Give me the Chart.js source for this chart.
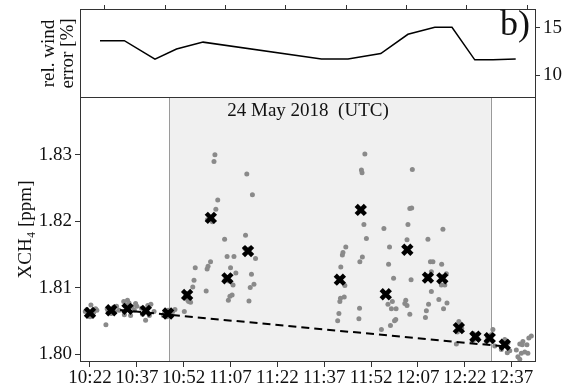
<!DOCTYPE html>
<html><head><meta charset="utf-8">
<script src="https://cdn.jsdelivr.net/npm/chart.js@4.4.0/dist/chart.umd.min.js"></script>
<style>
html,body{margin:0;padding:0;background:#fff;}
#wrap{position:relative;width:568px;height:391px;overflow:hidden;}
#cb{position:absolute;left:0;top:0;}
#ct{position:absolute;left:0;top:0;}
</style></head><body>
<div id="wrap"><canvas id="cb" width="568" height="391"></canvas><canvas id="ct" width="568" height="100"></canvas></div>
<script>
const FONT = "'Liberation Serif','Times New Roman','DejaVu Serif',serif";
const TXT = '#111';
const AX = '#333';

// x values are minutes after 10:22 UTC
const xTickMinutes = [0, 15, 30, 45, 60, 75, 90, 105, 120, 135];
const xTickLabels = ['10:22','10:37','10:52','11:07','11:22','11:37','11:52','12:07','12:22','12:37'];
const yTicks = [1.80, 1.81, 1.82, 1.83];
const windTicks = [10, 15];
const topTickMinutes = [4.5, 24.3, 43.5, 62.7, 82.2, 101.4, 120.6, 140.1];
const xRange = [-3.2, 142.8];
const yRange = [1.7988, 1.8387];
const windRange = [7.6, 17.0];

// relative wind error [%]
const windX = [3.2, 11.0, 20.8, 27.7, 36.2, 74.1, 82.6, 93.1, 101.8, 110.4, 115.9, 123.2, 129.0, 136.3];
const windY = [13.65, 13.65, 11.7, 12.77, 13.5, 11.73, 11.73, 12.3, 14.33, 15.07, 15.07, 11.63, 11.63, 11.73];

// individual XCH4 observations [ppm]
const obsX = [
  -1.0, 0.3, 1.2, -0.6, 0.8, 1.8, -1.5, 0.0, 2.2,
  5.1,
  5.5, 6.2, 7.5, 8.5, 9.3, 6.8, 8.0, 5.8,
  10.8, 11.5, 12.5, 13.5, 14.2, 11.0, 13.0, 15.0, 12.0, 14.6,
  16.5, 17.2, 18.5, 19.5, 20.5, 17.8, 19.0, 16.8,
  23.5, 24.2, 25.0, 25.8, 26.5, 27.2, 24.6, 23.9,
  30.2,
  31.9, 30.5, 31.3, 31.6, 30.8, 32.2,
  32.9, 33.3, 33.7, 37.2, 37.5, 37.8, 38.6, 40.0, 39.7, 40.9, 40.3, 37.6, 39.2,
  43.1, 43.2, 43.9, 44.3, 44.8, 45.0, 45.5, 45.8, 46.1, 46.7, 44.5,
  49.6, 49.8, 50.2, 50.9, 51.3, 51.7, 52.0, 52.5, 53.0, 51.0,
  79.3, 79.7, 80.0, 80.2, 80.3, 80.8, 81.0, 81.4, 81.6, 81.9,
  86.1, 86.3, 86.4, 86.9, 87.1, 87.2, 87.7, 88.0, 88.5,
  93.3, 94.1, 95.4, 95.6, 95.9, 96.2, 96.5, 96.8, 97.2, 97.5, 97.9, 98.0,
  101.1, 101.5, 101.5, 101.8, 102.4, 102.4, 102.8, 103.0, 103.2, 100.8,
  107.4, 107.7, 108.2, 108.4, 109.0, 109.3, 109.3, 109.8, 107.8,
  111.7, 112.5, 112.6, 113.0, 113.2, 113.6, 114.1, 114.3, 113.2,
  118.1, 118.8, 117.3, 117.6, 119.0, 118.6,
  122.6, 123.7, 122.4, 124.2, 123.2, 122.9,
  129.0, 128.5, 126.9, 129.6, 127.3, 128.1,
  132.8, 133.8, 131.7, 134.4, 133.6, 132.3,
  141.3, 140.5, 138.6, 137.6, 139.9, 138.4, 136.5, 139.2, 138.1, 140.2, 137.0, 137.6
];
const obsY = [
  1.8067, 1.8074, 1.8063, 1.8058, 1.8060, 1.8068, 1.8064, 1.8056, 1.8066,
  1.8044,
  1.8068, 1.8063, 1.8070, 1.8072, 1.8066, 1.8061, 1.8064, 1.8065,
  1.8079, 1.8074, 1.8077, 1.8071, 1.8066, 1.8059, 1.8058, 1.8072, 1.8081, 1.8076,
  1.8069, 1.8062, 1.8073, 1.8075, 1.8064, 1.8051, 1.8058, 1.8060,
  1.8058, 1.8064, 1.8066, 1.8061, 1.8064, 1.8067, 1.8056, 1.8062,
  1.8064,
  1.8083, 1.8086, 1.8081, 1.8079, 1.8091, 1.8078,
  1.8101, 1.8111, 1.8130, 1.8095, 1.8128, 1.8132, 1.8139, 1.8300, 1.8290, 1.8232, 1.8218, 1.8202, 1.8199,
  1.8173, 1.8111, 1.8147, 1.8081, 1.8087, 1.8130, 1.8089, 1.8104, 1.8147, 1.8122, 1.8110,
  1.8159, 1.8179, 1.8271, 1.8080, 1.8100, 1.8120, 1.8240, 1.8105, 1.8144, 1.8158,
  1.8050, 1.8061, 1.8079, 1.8084, 1.8131, 1.8149, 1.8153, 1.8086, 1.8103, 1.8161,
  1.8053, 1.8069, 1.8139, 1.8277, 1.8273, 1.8146, 1.8195, 1.8301, 1.8174,
  1.8037, 1.8189, 1.8075, 1.8135, 1.8161, 1.8043, 1.8068, 1.8079, 1.8114, 1.8050, 1.8052, 1.8068,
  1.8081, 1.8073, 1.8172, 1.8195, 1.8219, 1.8060, 1.8112, 1.8220, 1.8278, 1.8076,
  1.8055, 1.8065, 1.8173, 1.8075, 1.8139, 1.8124, 1.8094, 1.8139, 1.8118,
  1.8082, 1.8104, 1.8135, 1.8188, 1.8068, 1.8104, 1.8121, 1.8077, 1.8117,
  1.8049, 1.8045, 1.8015, 1.8033, 1.8039, 1.8042,
  1.8031, 1.8029, 1.8019, 1.8023, 1.8026, 1.8022,
  1.8037, 1.8029, 1.8019, 1.8012, 1.8025, 1.8021,
  1.8022, 1.8017, 1.8007, 1.8005, 1.8002, 1.8013,
  1.8027, 1.8024, 1.8019, 1.8015, 1.8014, 1.8014, 1.8006, 1.8003, 1.8001, 1.8001, 1.7996, 1.7992
];

// cluster means
const meanX = [0, 6.8, 12.0, 17.9, 25.0, 31.1, 38.7, 44.0, 50.6, 80.0, 86.7, 94.7, 101.6, 108.2, 112.8, 118.1, 123.4, 128.0, 132.8];
const meanY = [1.8062, 1.8066, 1.8068, 1.8065, 1.8061, 1.8089, 1.8205, 1.8114, 1.8155, 1.8112, 1.8217, 1.8090, 1.8157, 1.8115, 1.8114, 1.8039, 1.8026, 1.8024, 1.8014];

// background trend
const trendX = [5.5, 133.7];
const trendY = [1.8068, 1.8011];

const shadeRange = [25.3, 128.3];
const dateLabel = '24 May 2018  (UTC)';
const panelLabel = 'b)';
const yTitle = 'XCH\u2084 [ppm]';
const windTitle = ['rel. wind', 'error [%]'];

const pts = (xs, ys) => xs.map((x, i) => ({x: x, y: ys[i]}));
const noPad = s => { s.paddingTop = 0; s.paddingBottom = 0; s.paddingLeft = 0; s.paddingRight = 0; };

const frame = {id: 'frame', afterDatasetsDraw(c) {
  const a = c.chartArea, ctx = c.ctx;
  ctx.save(); ctx.strokeStyle = AX; ctx.lineWidth = 1;
  ctx.strokeRect(Math.round(a.left) + 0.5, Math.round(a.top) + 0.5, Math.round(a.right - a.left) - 1, Math.round(a.bottom - a.top) - 1);
  ctx.restore();
}};

const shade = {id: 'shade', beforeDatasetsDraw(c) {
  const xs = c.scales.x, a = c.chartArea, ctx = c.ctx;
  const x0 = xs.getPixelForValue(shadeRange[0]), x1 = xs.getPixelForValue(shadeRange[1]);
  ctx.save();
  ctx.fillStyle = '#f0f0f0';
  ctx.fillRect(x0, a.top, x1 - x0, a.bottom - a.top);
  ctx.strokeStyle = '#9a9a9a'; ctx.lineWidth = 1;
  ctx.beginPath();
  ctx.moveTo(Math.round(x0) + 0.5, a.top); ctx.lineTo(Math.round(x0) + 0.5, a.bottom);
  ctx.moveTo(Math.round(x1) + 0.5, a.top); ctx.lineTo(Math.round(x1) + 0.5, a.bottom);
  ctx.stroke();
  ctx.font = '19px ' + FONT; ctx.fillStyle = TXT; ctx.textAlign = 'center'; ctx.textBaseline = 'alphabetic';
  ctx.fillText(dateLabel, (a.left + a.right) / 2, a.top + 19);
  ctx.restore();
}};

const bLabel = {id: 'blabel', afterDraw(c) {
  const a = c.chartArea, ctx = c.ctx;
  ctx.save(); ctx.font = '36px ' + FONT; ctx.fillStyle = TXT; ctx.textAlign = 'right'; ctx.textBaseline = 'alphabetic';
  ctx.fillText(panelLabel, a.right - 6, a.top + 26);
  ctx.restore();
}};

new Chart(document.getElementById('cb'), {
  type: 'scatter',
  data: {datasets: [
    {data: pts(meanX, meanY), pointStyle: 'crossRot', radius: 6.5, borderWidth: 4.5, borderColor: '#000', backgroundColor: '#000', order: 0},
    {type: 'line', data: pts(trendX, trendY), borderColor: '#000', borderWidth: 2, borderDash: [8, 5], pointRadius: 0, fill: false, order: 1},
    {data: pts(obsX, obsY), pointRadius: 2.5, backgroundColor: '#8a8a8a', borderWidth: 0, order: 2}
  ]},
  options: {
    responsive: false, animation: false, events: [],
    layout: {padding: {left: 0, right: 32, top: 97, bottom: 0}},
    plugins: {legend: {display: false}, tooltip: {enabled: false}},
    scales: {
      x: {type: 'linear', min: xRange[0], max: xRange[1],
        afterBuildTicks: s => { s.ticks = xTickMinutes.map(v => ({value: v})); },
        afterFit: s => { s.height = 29; noPad(s); },
        grid: {drawOnChartArea: false, tickLength: 5, color: AX},
        border: {display: false},
        ticks: {callback: (v, i) => xTickLabels[i], font: {family: FONT, size: 19}, color: TXT, maxRotation: 0, autoSkip: false, padding: 0}
      },
      y: {type: 'linear', min: yRange[0], max: yRange[1],
        afterBuildTicks: s => { s.ticks = yTicks.map(v => ({value: v})); },
        afterFit: s => { s.width = 80; noPad(s); },
        grid: {drawOnChartArea: false, tickLength: 5, color: AX},
        border: {display: false},
        ticks: {callback: v => v.toFixed(2), font: {family: FONT, size: 19}, color: TXT, padding: 3},
        title: {display: true, text: yTitle, font: {family: FONT, size: 19, lineHeight: 1}, color: TXT, padding: {top: 17, bottom: 0}}
      }
    }
  },
  plugins: [shade, frame]
});

new Chart(document.getElementById('ct'), {
  type: 'line',
  data: {datasets: [
    {data: pts(windX, windY), xAxisID: 'x', yAxisID: 'y', borderColor: '#000', borderWidth: 1.5, pointRadius: 0, tension: 0, fill: false}
  ]},
  options: {
    responsive: false, animation: false, events: [],
    layout: {padding: {left: 0, right: 0, top: 0, bottom: 2}},
    plugins: {legend: {display: false}, tooltip: {enabled: false}},
    scales: {
      x: {type: 'linear', position: 'top', min: xRange[0], max: xRange[1],
        afterBuildTicks: s => { s.ticks = topTickMinutes.map(v => ({value: v})); },
        afterFit: s => { s.height = 9; noPad(s); },
        ticks: {display: false},
        grid: {drawOnChartArea: false, tickLength: 4, color: AX},
        border: {display: false}
      },
      y: {type: 'linear', position: 'right', min: windRange[0], max: windRange[1],
        afterBuildTicks: s => { s.ticks = windTicks.map(v => ({value: v})); },
        afterFit: s => { s.width = 32; noPad(s); },
        grid: {drawOnChartArea: false, tickLength: 4, color: AX},
        border: {display: false},
        ticks: {font: {family: FONT, size: 19}, color: TXT, padding: 3}
      },
      yl: {type: 'linear', position: 'left', min: 0, max: 1,
        afterFit: s => { s.width = 80; noPad(s); },
        ticks: {display: false}, grid: {display: false}, border: {display: false},
        title: {display: true, text: windTitle, font: {family: FONT, size: 19, lineHeight: 1}, color: TXT, padding: {top: 40, bottom: 0}}
      }
    }
  },
  plugins: [frame, bLabel]
});
</script>
</body></html>
